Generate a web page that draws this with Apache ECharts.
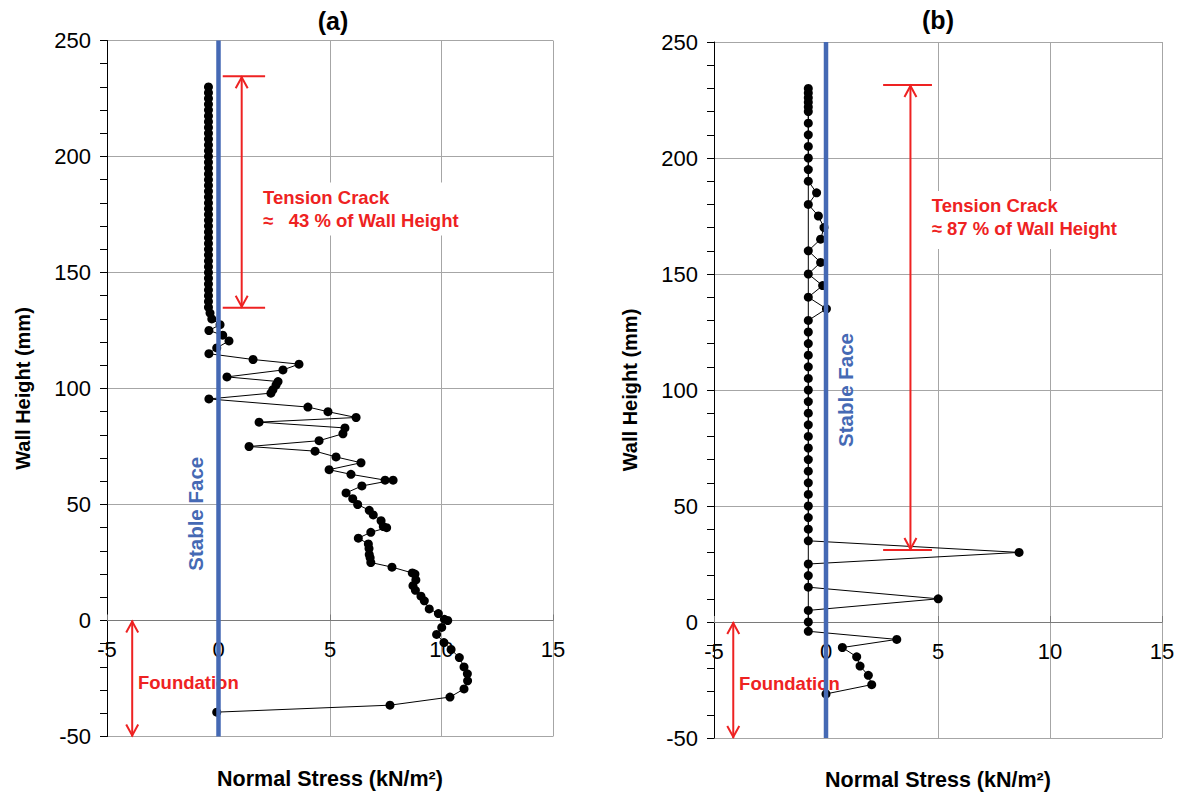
<!DOCTYPE html>
<html>
<head>
<meta charset="utf-8">
<script src="https://cdn.jsdelivr.net/npm/echarts@6/dist/echarts.min.js"></script>
<style>
  html, body { margin: 0; padding: 0; background: #ffffff; }
  #chart { width: 1181px; height: 794px; }
</style>
</head>
<body>
<div id="chart"></div>
<script>
// ---- Panel (a): normal stress profile along the wall (kN/m², mm) ----
const aHeight = [
  230, 227.5, 225, 222.5, 220, 217.5, 215, 212.5, 210, 207.5,
  205, 202.5, 200, 197.5, 195, 192.5, 190, 187.5, 185, 182.5,
  180, 177.5, 175, 172.5, 170, 167.5, 165, 162.5, 160, 157.5,
  155, 152.5, 150, 147.5, 145, 142.5, 140, 137.5, 135,
  132.5, 130, 127.5, 125, 123, 120.5, 117.5, 115, 112.5, 110.5,
  108, 105, 103, 101.5, 99.5, 98, 95.5, 92, 90, 87.5,
  85.5, 83, 80.5, 77.5, 75, 73, 70.5, 68, 65, 63,
  60.5, 60.5, 58, 55, 52.5, 50, 47.5, 45.5, 43, 40.5,
  40, 38, 35.5, 33, 31, 28.5, 27, 25, 23, 20.5,
  20, 17.5, 15, 13, 10.5, 8.5, 5, 3, 0.5, 0,
  -3, -6, -9.5, -12.5, -16, -20, -23, -26, -29.5, -33,
  -36.5, -39.5
];
const aStress = [
  -0.45, -0.45, -0.45, -0.45, -0.45, -0.45, -0.45, -0.45, -0.45, -0.45,
  -0.45, -0.45, -0.45, -0.45, -0.45, -0.45, -0.45, -0.45, -0.45, -0.45,
  -0.45, -0.45, -0.45, -0.45, -0.45, -0.45, -0.45, -0.45, -0.45, -0.45,
  -0.45, -0.45, -0.45, -0.45, -0.45, -0.45, -0.45, -0.45, -0.45,
  -0.38, -0.3, 0.07, -0.43, 0.19, 0.47, -0.08, -0.43, 1.55, 3.61,
  2.89, 0.38, 2.67, 2.58, 2.44, 2.35, -0.43, 4.01, 4.91, 6.17,
  1.82, 5.67, 5.58, 4.51, 1.37, 4.33, 5.27, 6.39, 4.96, 5.94,
  7.47, 7.83, 6.43, 5.72, 6.02, 6.24, 6.76, 6.94, 7.29, 7.39,
  7.54, 6.83, 6.27, 6.72, 6.75, 6.76, 6.8, 6.83, 7.78, 8.69,
  8.81, 8.85, 8.72, 8.83, 9.08, 9.23, 9.45, 9.86, 10.13, 10.28,
  10.01, 9.78, 10.11, 10.43, 10.8, 11.01, 11.16, 11.17, 11.01, 10.38,
  7.69, -0.08
];

// ---- Panel (b) ----
const bHeight = [
  230, 228, 226, 224, 222, 220, 215, 210, 205, 200, 195, 190,
  185, 180, 175, 170, 165, 160, 155, 150, 145, 140, 135, 130,
  125, 120, 115, 110, 105, 100, 95, 90, 85, 80, 75, 70, 65, 60, 55, 50, 45, 40, 35,
  30, 25, 20, 15, 10, 5, 0,
  -4, -7.5, -11, -15, -19, -23, -27, -31
];
const bStress = [
  -0.79, -0.79, -0.79, -0.79, -0.79, -0.79, -0.79, -0.79, -0.79, -0.79, -0.79, -0.79,
  -0.42, -0.79, -0.34, -0.09, -0.24, -0.79, -0.24, -0.79, -0.15, -0.79, 0.02, -0.79,
  -0.79, -0.79, -0.79, -0.79, -0.79, -0.79, -0.79, -0.79, -0.79, -0.79, -0.79, -0.79, -0.79, -0.79, -0.79, -0.79, -0.79, -0.79, -0.79,
  8.62, -0.79, -0.79, -0.79, 5.01, -0.79, -0.79,
  -0.79, 3.16, 0.73, 1.37, 1.52, 1.89, 2.04, 0.0
];
// stress value of the readings lying on the straight column
const bColumnStress = -0.79;

// ---- axes ----
const stressRange = [-5, 15];
const stressStep = 5;
const heightRange = [-50, 250];
const heightStep = 50;
const panelTitles = ['(a)', '(b)'];
const xTitle = 'Normal Stress (kN/m²)';
const yTitle = 'Wall Height (mm)';

// ---- annotations (data coordinates) ----
const crackA = { x: 1.04, top: 234.6, bottom: 134.8, barFrom: 0.19, barTo: 2.09 };
const crackB = { x: 3.77, top: 231.5, bottom: 31, barFrom: 2.55, barTo: 4.73 };
const crackTextA = { x: 2.0, y: 187.5, w: 214, h: 53, text: 'Tension Crack\n≈   43 % of Wall Height' };
const crackTextB = { x: 4.72, y: 184.5, w: 206, h: 58, text: 'Tension Crack\n≈ 87 % of Wall Height' };
const foundA = { x: -3.87, top: 0, bottom: -50 };
const foundB = { x: -4.14, top: 0, bottom: -50 };
const foundTextA = { x: -3.61, y: -26.7 };
const foundTextB = { x: -3.88, y: -26.7 };
const faceA = { x: -1.05, y: 46 };
const faceB = { x: 0.85, y: 100 };

const FONT = '"Liberation Sans", Arial, Helvetica, sans-serif';
const RED = '#ee2222';
const BLUE = '#4569b4';
const GRIDLINE = '#a6a6a6';
const ZEROLINE = '#7a7a7a';

// plot areas of the two panels (pixels)
const panels = [
  { left: 107, top: 40.5, width: 446, height: 696 },
  { left: 714, top: 42, width: 448, height: 696 }
];
// share of the plot height lying above the zero-height line
const zeroShare = (heightRange[1] - 0) / (heightRange[1] - heightRange[0]);

const chart = echarts.init(document.getElementById('chart'), null, { renderer: 'svg' });

function mainXAxis(i) {
  return {
    type: 'value', gridIndex: i,
    min: stressRange[0], max: stressRange[1], interval: stressStep,
    axisLine: { show: false, onZero: false },
    axisTick: { show: false },
    axisLabel: { show: false },
    splitLine: { show: true, lineStyle: { color: GRIDLINE, width: 1 } },
    name: xTitle, nameLocation: 'middle', nameGap: 31, nameMoveOverlap: false,
    nameTextStyle: { color: '#000', fontSize: 21.5, fontWeight: 'bold', fontFamily: FONT }
  };
}
// axis drawn along the zero-height line, carrying the stress tick labels
function zeroXAxis(i) {
  return {
    type: 'value', gridIndex: i + 2,
    min: stressRange[0], max: stressRange[1], interval: stressStep,
    axisLine: { show: true, onZero: false, lineStyle: { color: ZEROLINE, width: 1.2 } },
    axisTick: { show: true, inside: true, length: 6, lineStyle: { color: ZEROLINE } },
    axisLabel: { color: '#000', fontSize: 22, fontFamily: FONT, margin: 18 },
    splitLine: { show: false }
  };
}
function mainYAxis(i) {
  return {
    type: 'value', gridIndex: i,
    min: heightRange[0], max: heightRange[1], interval: heightStep,
    axisLine: { show: true, onZero: false, lineStyle: { color: '#000', width: 1 } },
    axisTick: { show: true, length: 7, lineStyle: { color: '#000' } },
    minorTick: { show: true, splitNumber: 5, length: 7, lineStyle: { color: '#000' } },
    axisLabel: { color: '#000', fontSize: 22, fontFamily: FONT, margin: 16 },
    splitLine: { show: true, lineStyle: { color: GRIDLINE, width: 1 } },
    name: yTitle, nameLocation: 'middle', nameGap: 74, nameRotate: 90, nameMoveOverlap: false,
    nameTextStyle: { color: '#000', fontSize: 20, fontWeight: 'bold', fontFamily: FONT }
  };
}
function zeroYAxis(i) {
  return { type: 'value', gridIndex: i + 2, min: 0, max: 1, show: false };
}

function profileSeries(i, xs, ys) {
  return {
    type: 'line', xAxisIndex: i, yAxisIndex: i,
    data: xs.map((x, k) => [x, ys[k]]),
    symbol: 'circle', symbolSize: 9, showSymbol: true,
    lineStyle: { color: '#000', width: 1 },
    itemStyle: { color: '#000' },
    z: 3, animation: false
  };
}

function stableFaceSeries(i) {
  return {
    type: 'line', xAxisIndex: i, yAxisIndex: i,
    data: [[0, heightRange[0]], [0, heightRange[1]]],
    symbol: 'none', lineStyle: { color: BLUE, width: 4.5 },
    z: 6, animation: false
  };
}

function chevron(p, dir) {
  // dir = -1 points up, +1 points down
  return {
    type: 'polyline',
    shape: { points: [[p[0] - 6, p[1] - dir * 12], [p[0], p[1] - dir * 1], [p[0] + 6, p[1] - dir * 12]] },
    style: { stroke: RED, lineWidth: 2, fill: null }
  };
}

function annotationSeries(i, crack, crackText, found, foundText, face) {
  return {
    type: 'custom', xAxisIndex: i, yAxisIndex: i,
    data: [[0, 0]], silent: true, animation: false, z: 5, clip: false,
    renderItem: function (params, api) {
      const ct = api.coord([crack.x, crack.top]);
      const cb = api.coord([crack.x, crack.bottom]);
      const bt0 = api.coord([crack.barFrom, crack.top]);
      const bt1 = api.coord([crack.barTo, crack.top]);
      const bb0 = api.coord([crack.barFrom, crack.bottom]);
      const bb1 = api.coord([crack.barTo, crack.bottom]);
      const ft = api.coord([found.x, found.top]);
      const fb = api.coord([found.x, found.bottom]);
      const tp = api.coord([crackText.x, crackText.y]);
      const fp = api.coord([foundText.x, foundText.y]);
      const sp = api.coord([face.x, face.y]);
      const line = (a, b) => ({
        type: 'line', shape: { x1: a[0], y1: a[1], x2: b[0], y2: b[1] },
        style: { stroke: RED, lineWidth: 2 }
      });
      return {
        type: 'group',
        children: [
          line(ct, cb), line(bt0, bt1), line(bb0, bb1),
          chevron(ct, -1), chevron(cb, 1),
          line(ft, fb), chevron(ft, -1), chevron(fb, 1),
          {
            type: 'rect',
            shape: { x: tp[0] - 5, y: tp[1] - 3, width: crackText.w, height: crackText.h },
            style: { fill: '#ffffff' }
          },
          {
            type: 'text', x: tp[0], y: tp[1],
            style: {
              text: crackText.text, fill: RED, font: 'bold 18.5px ' + FONT,
              lineHeight: 23, align: 'left', verticalAlign: 'top'
            }
          },
          {
            type: 'text', x: fp[0], y: fp[1],
            style: {
              text: 'Foundation', fill: RED, font: 'bold 18.5px ' + FONT,
              align: 'left', verticalAlign: 'middle'
            }
          },
          {
            type: 'text', x: sp[0], y: sp[1], rotation: Math.PI / 2,
            style: {
              text: 'Stable Face', fill: BLUE, font: 'bold 20.5px ' + FONT,
              align: 'center', verticalAlign: 'middle'
            }
          }
        ]
      };
    }
  };
}

const gridBase = { outerBoundsMode: 'none', containLabel: false };

const option = {
  backgroundColor: '#ffffff',
  animation: false,
  textStyle: { fontFamily: FONT },
  grid: [
    Object.assign({}, gridBase, panels[0]),
    Object.assign({}, gridBase, panels[1]),
    Object.assign({}, gridBase, { left: panels[0].left, top: panels[0].top, width: panels[0].width, height: panels[0].height * zeroShare }),
    Object.assign({}, gridBase, { left: panels[1].left, top: panels[1].top, width: panels[1].width, height: panels[1].height * zeroShare })
  ],
  xAxis: [mainXAxis(0), mainXAxis(1), zeroXAxis(0), zeroXAxis(1)],
  yAxis: [mainYAxis(0), mainYAxis(1), zeroYAxis(0), zeroYAxis(1)],
  graphic: [
    { type: 'text', x: 333, y: 21, style: { text: panelTitles[0], font: 'bold 25px ' + FONT, fill: '#000', align: 'center', verticalAlign: 'middle' } },
    { type: 'text', x: 938, y: 20, style: { text: panelTitles[1], font: 'bold 25px ' + FONT, fill: '#000', align: 'center', verticalAlign: 'middle' } }
  ],
  series: [
    profileSeries(0, aStress, aHeight),
    profileSeries(1, bStress, bHeight),
    // straight column joining the readings that sit on the column value
    {
      type: 'line', xAxisIndex: 1, yAxisIndex: 1,
      data: bStress.map((x, k) => [x, bHeight[k]]).filter(p => p[0] === bColumnStress),
      symbol: 'none', lineStyle: { color: '#000', width: 1 }, z: 2, animation: false
    },
    annotationSeries(0, crackA, crackTextA, foundA, foundTextA, faceA),
    annotationSeries(1, crackB, crackTextB, foundB, foundTextB, faceB),
    stableFaceSeries(0),
    stableFaceSeries(1)
  ]
};

chart.setOption(option);
</script>
</body>
</html>
